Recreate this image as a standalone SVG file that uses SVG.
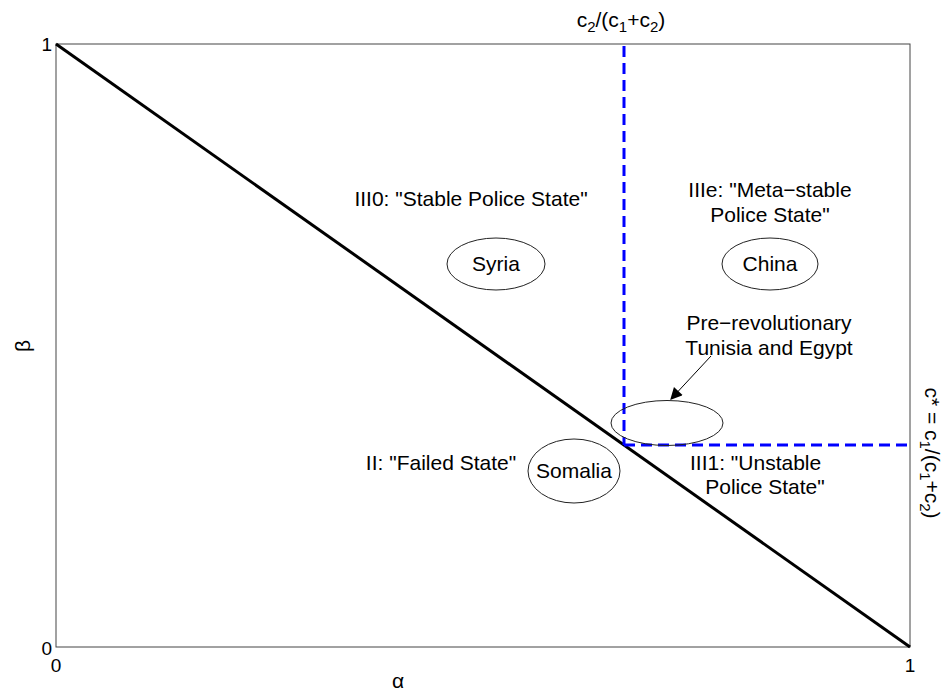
<svg xmlns="http://www.w3.org/2000/svg" width="945" height="694" viewBox="0 0 945 694">
<style>
text{font-family:"Liberation Sans",Arial,sans-serif;fill:#000}
.t{font-size:21px}
.k{font-size:19px}
.e{fill:none;stroke:#222;stroke-width:1}
.d{fill:none;stroke:#0000ff;stroke-width:3;stroke-dasharray:11,6}
</style>
<defs>
<marker id="ah" viewBox="0 0 10 10" refX="9" refY="5" markerWidth="16" markerHeight="12" markerUnits="userSpaceOnUse" orient="auto">
<path d="M0,0 L10,5 L0,10 z" fill="#000"/>
</marker>
</defs>
<rect width="945" height="694" fill="#fff"/>
<g id="axes">
<rect x="56" y="44" width="854" height="603" fill="none" stroke="#444" stroke-width="1"/>
<text class="k" x="52" y="51" text-anchor="end">1</text>
<text class="k" x="52" y="655" text-anchor="end">0</text>
<text class="k" x="56" y="672" text-anchor="middle">0</text>
<text class="k" x="910" y="672" text-anchor="middle">1</text>
<text class="t" x="398" y="688" text-anchor="middle">α</text>
<text class="t" transform="translate(30,346) rotate(-90)" text-anchor="middle">β</text>
<text class="t" x="621" y="27" text-anchor="middle">c<tspan font-size="15" dy="5">2</tspan><tspan dy="-5">/(c</tspan><tspan font-size="15" dy="5">1</tspan><tspan dy="-5">+c</tspan><tspan font-size="15" dy="5">2</tspan><tspan dy="-5">)</tspan></text>
<text class="t" transform="translate(925,453) rotate(90)" text-anchor="middle">c* = c<tspan font-size="15" dy="5">1</tspan><tspan dy="-5">/(c</tspan><tspan font-size="15" dy="5">1</tspan><tspan dy="-5">+c</tspan><tspan font-size="15" dy="5">2</tspan><tspan dy="-5">)</tspan></text>
</g>
<g id="connectors">
<line x1="56" y1="44" x2="910" y2="647" stroke="#000" stroke-width="3"/>
<line class="d" x1="624" y1="46" x2="624" y2="445"/>
<line class="d" x1="624" y1="445" x2="910" y2="445"/>
<line x1="711" y1="356" x2="671" y2="399" stroke="#000" stroke-width="1" marker-end="url(#ah)"/>
</g>
<g id="region-III0">
<text class="t" x="471" y="206" text-anchor="middle">III0: "Stable Police State"</text>
</g>
<g id="region-IIIe">
<text class="t" x="770" y="197" text-anchor="middle">IIIe: "Meta−stable</text>
<text class="t" x="770" y="222" text-anchor="middle">Police State"</text>
</g>
<g id="region-II">
<text class="t" x="441" y="470" text-anchor="middle">II: "Failed State"</text>
</g>
<g id="region-III1">
<text class="t" x="690" y="470">III1: "Unstable</text>
<text class="t" x="765" y="494" text-anchor="middle">Police State"</text>
</g>
<g id="syria">
<ellipse class="e" cx="496" cy="264" rx="49" ry="26"/>
<text class="t" x="496" y="271" text-anchor="middle">Syria</text>
</g>
<g id="china">
<ellipse class="e" cx="770" cy="264" rx="48" ry="26"/>
<text class="t" x="770" y="271" text-anchor="middle">China</text>
</g>
<g id="tunisia-egypt">
<ellipse class="e" cx="667" cy="423" rx="56" ry="22.5"/>
<text class="t" x="769" y="330" text-anchor="middle">Pre−revolutionary</text>
<text class="t" x="769" y="355" text-anchor="middle">Tunisia and Egypt</text>
</g>
<g id="somalia">
<ellipse class="e" cx="574" cy="471" rx="46" ry="32"/>
<text class="t" x="574" y="478" text-anchor="middle">Somalia</text>
</g>
</svg>
